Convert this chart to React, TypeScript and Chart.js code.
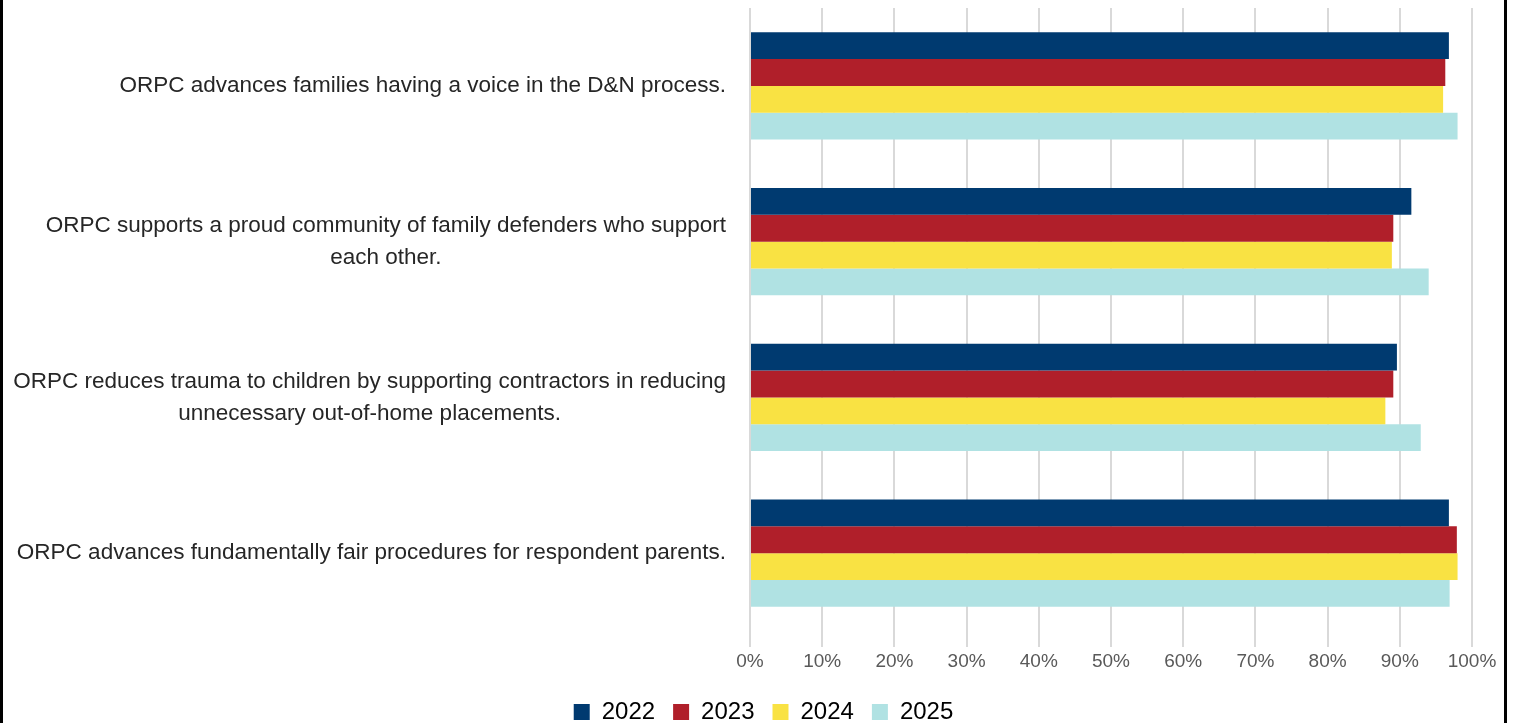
import React, { useEffect, useRef } from 'react';
import { Chart, registerables } from 'chart.js';

Chart.register(...registerables);

const categories: string[][] = [
  ['ORPC advances families having a voice in the D&N process.'],
  ['ORPC supports a proud community of family defenders who support', 'each other.'],
  ['ORPC reduces trauma to children by supporting contractors in reducing', 'unnecessary out-of-home placements.'],
  ['ORPC advances fundamentally fair procedures for respondent parents.'],
];
const seriesNames = ['2022', '2023', '2024', '2025'];
const values2022 = [96.8, 91.6, 89.6, 96.8];
const values2023 = [96.3, 89.1, 89.1, 97.9];
const values2024 = [96.0, 88.9, 88.0, 98.0];
const values2025 = [98.0, 94.0, 92.9, 96.9];
const seriesColors = ['#003A70', '#B01F2A', '#F9E243', '#B0E2E3'];
const xMin = 0;
const xMax = 100;
const xStep = 10;

const LABEL_FONT = '22.5px "Liberation Sans", Arial, sans-serif';
const LABEL_GAP = 24;
const LABEL_LINE_H = 32;
const LEFT_PAD = 52;

const centeredYLabels = {
  id: 'centeredYLabels',
  afterDraw(chart: any) {
    const ys = chart.scales.y;
    const ctx = chart.ctx;
    ctx.save();
    ctx.font = LABEL_FONT;
    ctx.fillStyle = '#262626';
    ctx.textBaseline = 'middle';
    ctx.textAlign = 'center';
    const right = ys.right - LABEL_GAP;
    (chart.data.labels as string[][]).forEach((lab, i) => {
      const lines = Array.isArray(lab) ? lab : [lab];
      const w = Math.max(...lines.map((l) => ctx.measureText(l).width));
      const cx = right - w / 2;
      const cy = ys.getPixelForTick(i);
      lines.forEach((l, j) => {
        ctx.fillText(l, cx, cy + (j - (lines.length - 1) / 2) * LABEL_LINE_H);
      });
    });
    ctx.restore();
  },
};

export default function App() {
  const ref = useRef<HTMLCanvasElement>(null);

  useEffect(() => {
    if (!ref.current) return;
    const allValues = [values2022, values2023, values2024, values2025];
    const chart = new Chart(ref.current, {
      type: 'bar',
      data: {
        labels: categories,
        datasets: seriesNames.map((name, i) => ({
          label: name,
          data: allValues[i],
          backgroundColor: seriesColors[i],
          borderWidth: 0,
          barPercentage: 1.0,
          categoryPercentage: 0.687,
        })),
      },
      options: {
        indexAxis: 'y',
        animation: false,
        responsive: true,
        maintainAspectRatio: false,
        layout: { padding: { top: 8, right: 32, left: LEFT_PAD, bottom: 0 } },
        plugins: {
          legend: {
            position: 'bottom',
            labels: {
              boxWidth: 16,
              boxHeight: 16,
              padding: 18,
              color: '#000',
              font: { family: '"Liberation Sans", Arial, sans-serif', size: 24 },
            },
          },
          tooltip: { enabled: false },
        },
        scales: {
          x: {
            min: xMin,
            max: xMax,
            ticks: {
              stepSize: xStep,
              padding: 3,
              color: '#595959',
              font: { family: '"Liberation Sans", Arial, sans-serif', size: 19 },
              callback: (v: any) => v + '%',
            },
            grid: {
              color: '#D9D9D9',
              lineWidth: 2,
              drawTicks: true,
              tickLength: 16,
              tickColor: '#D9D9D9',
            },
            border: { display: false },
            afterFit: (s: any) => {
              s.height = 51;
            },
          },
          y: {
            ticks: { display: false },
            grid: { display: false },
            border: { display: false },
            afterFit: (s: any) => {
              s.width = 747 - LEFT_PAD;
            },
          },
        },
      },
      plugins: [centeredYLabels],
    });
    return () => chart.destroy();
  }, []);

  return (
    <div
      style={{
        position: 'absolute',
        left: 0,
        top: 0,
        width: 1507,
        height: 723,
        overflow: 'hidden',
        boxSizing: 'border-box',
        borderLeft: '3px solid #000',
        borderRight: '3px solid #000',
        background: '#fff',
      }}
    >
      <div style={{ position: 'relative', width: 1501, height: 734 }}>
        <canvas ref={ref} />
      </div>
    </div>
  );
}
